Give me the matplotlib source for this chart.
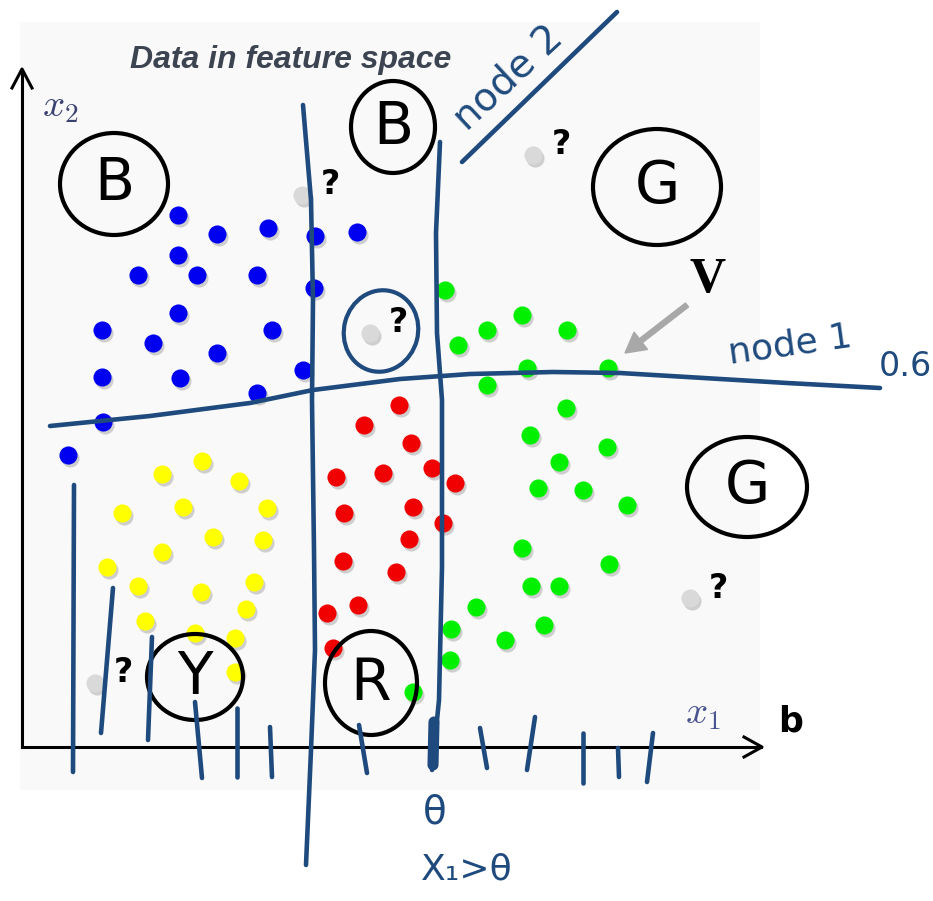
import matplotlib.pyplot as plt
from matplotlib.patches import Ellipse, Rectangle, FancyArrow
from matplotlib.transforms import offset_copy

plt.rcParams["mathtext.fontset"] = "cm"

# point data (pixel space of the picture, y grows downwards)
blue_x = [178, 217, 268, 315, 357, 178, 138, 197, 257, 314, 178, 102, 153, 217, 272, 102, 180, 303, 257, 103, 68]
blue_y = [215, 234, 228, 236, 232, 255, 275, 275, 275, 288, 313, 330, 343, 353, 330, 377, 378, 370, 393, 422, 455]

red_x = [399, 364, 411, 336, 383, 432, 455, 344, 413, 443, 409, 343, 396, 358, 327, 333]
red_y = [405, 425, 443, 477, 473, 468, 483, 513, 507, 523, 539, 561, 572, 605, 613, 648]

yellow_x = [162, 202, 239, 122, 183, 267, 213, 263, 162, 107, 138, 201, 254, 246, 145, 195, 235, 235]
yellow_y = [474, 461, 481, 513, 507, 508, 537, 540, 552, 567, 586, 592, 582, 609, 621, 633, 638, 672]

green_x = [445, 487, 522, 567, 458, 527, 608, 487, 566, 530, 607, 559, 538, 583, 627, 522, 609,
           531, 559, 476, 451, 544, 505, 450, 413]
green_y = [290, 330, 315, 330, 345, 368, 368, 385, 408, 435, 447, 462, 488, 490, 505, 548, 564,
           586, 586, 607, 629, 625, 640, 660, 692]

unknown_x = [302, 370, 533, 690, 95]
unknown_y = [195, 333, 155, 598, 683]

# hand drawn strokes
split_a_x = [303, 311, 313, 312, 314, 315, 311, 306]
split_a_y = [105, 200, 300, 400, 550, 650, 750, 865]
split_b_x = [440, 436, 437, 442, 442, 439, 432]
split_b_y = [142, 233, 333, 400, 567, 700, 770]
node1_x = [50, 150, 250, 313, 400, 470, 553, 620, 687, 787, 880]
node1_y = [426, 416, 403, 390, 379, 374, 372, 373, 377, 383, 388]
node2_x = [462, 617]
node2_y = [162, 12]
ticks = [((74, 485), (73, 772)), ((113, 588), (101, 733)), ((152, 637), (148, 740)),
         ((195, 702), (202, 778)), ((237, 708), (237, 777)), ((270, 727), (272, 777)),
         ((359, 725), (367, 773)), ((480, 728), (487, 768)), ((535, 717), (527, 770)),
         ((583, 733), (583, 783)), ((618, 748), (619, 777)), ((653, 733), (647, 782))]

# circled class letters: (letter, cx, cy, rx, ry)
circles = [("B", 114, 184, 54, 51), ("B", 393, 127, 42, 46), ("G", 657, 187, 64, 58),
           ("G", 747, 487, 60, 50), ("Y", 195, 677, 48, 43), ("R", 371, 683, 46, 52)]

ink = "#1f4a7d"

fig = plt.figure(figsize=(9.33, 9.01), dpi=100)
ax = fig.add_axes([0, 0, 1, 1])
ax.set_xlim(0, 933)
ax.set_ylim(901, 0)
ax.axis("off")

ax.add_patch(Rectangle((20, 22), 740, 768, facecolor="#f9f9f9", edgecolor="none", zorder=0))

# axes arrows
ax.plot([22, 22], [747, 70], color="black", lw=2.2, zorder=2)
ax.plot([12, 22, 32], [88, 69, 88], color="black", lw=2.2, zorder=2)
ax.plot([22, 761], [747, 747], color="black", lw=2.2, zorder=2)
ax.plot([744, 762, 744], [737, 747, 757], color="black", lw=2.2, zorder=2)

ax.text(130, 60, "Data in feature space", fontsize=23, fontweight="bold", style="italic",
        family="Liberation Sans", color="#3c4452", va="center", ha="left")
ax.text(60, 106, "$x_2$", fontsize=28, color="#3a4070", ha="center", va="center")
ax.text(703, 713, "$x_1$", fontsize=28, color="#4a5590", ha="center", va="center")
ax.text(791, 722, "b", fontsize=25, fontweight="bold", color="black", ha="center", va="center")

# dots with a soft drop shadow
shadow = offset_copy(ax.transData, fig=fig, x=2, y=-3, units="dots")
groups = [(blue_x, blue_y, "#0000f0"), (red_x, red_y, "#f00000"),
          (yellow_x, yellow_y, "#ffff00"), (green_x, green_y, "#00f000"),
          (unknown_x, unknown_y, "#d9d9d9")]
for gx, gy, col in groups:
    ax.scatter(gx, gy, s=170, color="#808080", alpha=0.35, linewidths=0, transform=shadow, zorder=3)
    ax.scatter(gx, gy, s=170, color=col, linewidths=0, zorder=4)
for ux, uy in zip(unknown_x, unknown_y):
    ax.text(ux + 28, uy - 10, "?", fontsize=24, fontweight="bold", color="black",
            ha="center", va="center", zorder=5)

# V arrow
ax.add_patch(FancyArrow(687, 305, -62, 48, width=5, head_width=22, head_length=20,
                        length_includes_head=True, color="#a8a8a8", zorder=5))
ax.text(708, 280, "V", fontsize=36, fontweight="bold", family="Liberation Serif",
        color="black", ha="center", va="center")

# circled letters
for letter, cx, cy, rx, ry in circles:
    ax.add_patch(Ellipse((cx, cy), 2 * rx, 2 * ry, fill=False, edgecolor="black", lw=3, zorder=6))
    ax.text(cx, cy, letter, fontsize=42, color="black", ha="center", va="center", zorder=6)

# blue ink annotations
ax.plot(split_a_x, split_a_y, color=ink, lw=3.3, solid_capstyle="round", zorder=7)
ax.plot(split_b_x, split_b_y, color=ink, lw=3.3, solid_capstyle="round", zorder=7)
ax.plot([434, 433], [722, 765], color=ink, lw=8, solid_capstyle="round", zorder=7)
ax.plot(node1_x, node1_y, color=ink, lw=3.3, solid_capstyle="round", zorder=7)
ax.plot(node2_x, node2_y, color=ink, lw=3.3, solid_capstyle="round", zorder=7)
for (x0, y0), (x1, y1) in ticks:
    ax.plot([x0, x1], [y0, y1], color=ink, lw=3.3, solid_capstyle="round", zorder=7)
ax.add_patch(Ellipse((381, 331), 74, 82, angle=15, fill=False, edgecolor=ink, lw=3, zorder=7))

ax.text(508, 78, "node 2", fontsize=28, color=ink, rotation=43, ha="center", va="center")
ax.text(790, 345, "node 1", fontsize=26, color=ink, rotation=8, ha="center", va="center")
ax.text(905, 366, "0.6", fontsize=24, color=ink, ha="center", va="center")
ax.text(435, 812, "θ", fontsize=28, color=ink, ha="center", va="center")
ax.text(467, 870, "X₁>θ", fontsize=26, color=ink, ha="center", va="center")

fig.savefig("out.png", dpi=100)
